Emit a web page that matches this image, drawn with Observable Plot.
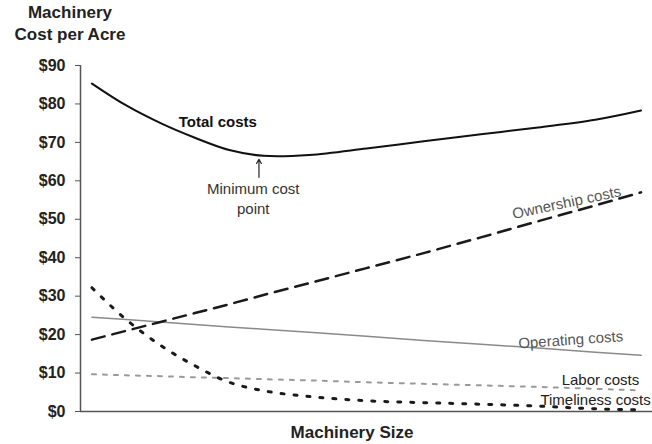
<!DOCTYPE html>
<html>
<head>
<meta charset="utf-8">
<script src="https://cdn.jsdelivr.net/npm/d3@7"></script>
<script src="https://cdn.jsdelivr.net/npm/@observablehq/plot@0.6"></script>
<style>
  html, body { margin: 0; padding: 0; background: #fff; }
  body { width: 652px; height: 444px; overflow: hidden; font-family: "Liberation Sans", Arial, sans-serif; }
  #title { width: 140px; height: 45px; text-align: center; font-weight: bold; font-size: 17px; line-height: 22px; padding-top: 2px; box-sizing: border-box; color: #222; }
  #xlabel { width: 652px; height: 21px; position: relative; }
  #xlabel span { position: absolute; left: 252px; width: 200px; text-align: center; font-weight: bold; font-size: 17px; line-height: 20px; color: #222; top: 0; }
  svg { display: block; }
</style>
</head>
<body>
<div id="title">Machinery<br>Cost per Acre</div>
<div id="chart"></div>
<div id="xlabel"><span>Machinery Size</span></div>
<script>
// Machinery size (relative index across the x axis)
const sizes = [2, 8, 14, 20, 26, 32, 40, 50, 60, 70, 80, 90, 98];
// Cost per acre ($) for each series
const totalCosts      = [85.3, 79.6, 75.0, 71.2, 68.0, 66.5, 66.7, 68.4, 70.3, 72.1, 73.9, 75.9, 78.3];
const ownershipCosts  = [18.7, 21.0, 23.3, 25.6, 27.9, 30.3, 33.4, 37.3, 41.2, 45.3, 49.5, 53.6, 57.0];
const operatingCosts  = [24.5, 23.9, 23.3, 22.6, 22.0, 21.4, 20.6, 19.6, 18.5, 17.5, 16.5, 15.4, 14.6];
const laborCosts      = [9.7, 9.4, 9.2, 8.9, 8.7, 8.4, 8.1, 7.6, 7.2, 6.8, 6.4, 5.9, 5.5];
const timelinessCosts = [32.2, 23.9, 17.2, 11.9, 7.6, 5.4, 3.9, 2.8, 2.3, 1.9, 1.4, 0.7, 0.4];
const yTicks = [0, 10, 20, 30, 40, 50, 60, 70, 80, 90];

const series = (vals) => sizes.map((s, i) => ({size: s, cost: vals[i]}));

const plot = Plot.plot({
  width: 652,
  height: 378,
  marginLeft: 80,
  marginRight: 0,
  marginTop: 20,
  marginBottom: 12,
  style: {fontFamily: "'Liberation Sans', Arial, sans-serif", color: "#222", background: "#fff"},
  x: {domain: [0, 100], axis: null},
  y: {domain: [0, 90], axis: null},
  marks: [
    Plot.axisY({ticks: yTicks, tickFormat: d => `$${d}`, tickSize: 5, tickPadding: 10, label: null,
      fontSize: 16, fontWeight: "bold", stroke: "#555", fill: "#222"}),
    Plot.ruleX([0], {stroke: "#555", strokeWidth: 1.5}),
    Plot.ruleY([0], {stroke: "#555", strokeWidth: 1.5}),
    Plot.line(series(laborCosts), {x: "size", y: "cost", stroke: "#9a9a9a", strokeWidth: 2, strokeDasharray: "4,7"}),
    Plot.line(series(operatingCosts), {x: "size", y: "cost", stroke: "#8a8a8a", strokeWidth: 1.5}),
    Plot.line(series(ownershipCosts), {x: "size", y: "cost", stroke: "#1a1a1a", strokeWidth: 2.5, strokeDasharray: "13,8"}),
    Plot.line(series(timelinessCosts), {x: "size", y: "cost", stroke: "#1a1a1a", strokeWidth: 3, strokeDasharray: "3,10", curve: "monotone-x"}),
    Plot.line(series(totalCosts), {x: "size", y: "cost", stroke: "#111", strokeWidth: 2, curve: "catmull-rom"}),
    Plot.arrow([0], {x1: 31.2, y1: 60.9, x2: 31.2, y2: 65.6, stroke: "#222", strokeWidth: 1.2, headLength: 6}),
    Plot.text(["Total costs"], {text: d => d, x: 24, y: 75.2, fontSize: 15, fontWeight: "bold", fill: "#111"}),
    Plot.text(["Minimum cost\npoint"], {text: d => d, x: 30.2, y: 55.7, fontSize: 15, lineHeight: 1.35, fill: "#333"}),
    Plot.text(["Ownership costs"], {text: d => d, x: 85, y: 54.3, fontSize: 15, rotate: -12, fill: "#555"}),
    Plot.text(["Operating costs"], {text: d => d, x: 85.7, y: 18.6, fontSize: 15, rotate: -4, fill: "#555"}),
    Plot.text(["Labor costs"], {text: d => d, x: 90.9, y: 8.1, fontSize: 15, fill: "#222"}),
    Plot.text(["Timeliness costs"], {text: d => d, x: 80.4, y: 2.9, fontSize: 15, textAnchor: "start", fill: "#222"})
  ]
});
document.getElementById("chart").appendChild(plot);
</script>
</body>
</html>
